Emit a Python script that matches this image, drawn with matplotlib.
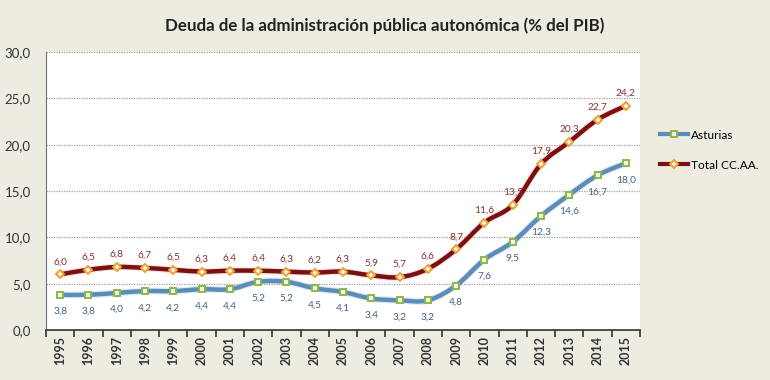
import matplotlib
matplotlib.use("Agg")
import matplotlib.pyplot as plt
import matplotlib.patheffects as pe
from matplotlib.path import Path
from matplotlib.patches import PathPatch
from matplotlib.lines import Line2D
import numpy as np

years = [str(y) for y in range(1995, 2016)]
asturias = [3.8, 3.8, 4.0, 4.2, 4.2, 4.4, 4.4, 5.2, 5.2, 4.5, 4.1, 3.4, 3.2, 3.2, 4.8, 7.6, 9.5, 12.3, 14.6, 16.7, 18.0]
total = [6.0, 6.5, 6.8, 6.7, 6.5, 6.3, 6.4, 6.4, 6.3, 6.2, 6.3, 5.9, 5.7, 6.6, 8.7, 11.6, 13.5, 17.9, 20.3, 22.7, 24.2]
yticks = [0, 5, 10, 15, 20, 25, 30]

plt.rcParams['font.family'] = ['Lato', 'DejaVu Sans']

BG = '#EEECE1'
fig = plt.figure(figsize=(7.7, 3.8), dpi=100, facecolor=BG)
ax = fig.add_axes([46/770, 1-330/380, 594/770, 278/380])
ax.set_facecolor('white')

x = np.arange(len(years))


def smooth_path(xs, ys, t=1/6):
    verts = [(xs[0], ys[0])]
    codes = [Path.MOVETO]
    n = len(xs)
    for i in range(n - 1):
        p0 = (xs[max(i-1, 0)], ys[max(i-1, 0)])
        p1 = (xs[i], ys[i])
        p2 = (xs[i+1], ys[i+1])
        p3 = (xs[min(i+2, n-1)], ys[min(i+2, n-1)])
        c1 = (p1[0] + (p2[0]-p0[0])*t, p1[1] + (p2[1]-p0[1])*t)
        c2 = (p2[0] - (p3[0]-p1[0])*t, p2[1] - (p3[1]-p1[1])*t)
        verts += [c1, c2, p2]
        codes += [Path.CURVE4]*3
    return Path(verts, codes)


series = [
    (asturias, '#5B8DB8', '#A9C6E0', 's', '#8DB848', '#44607E', -1, 'Asturias'),
    (total, '#7B1010', '#E8B0B0', 'D', '#F0A030', '#8B3030', 1, 'Total CC.AA.'),
]

for vals, lc, glow, mk, mc, tc, side, name in series:
    p = smooth_path(x, vals)
    patch = PathPatch(p, facecolor='none', edgecolor=lc, lw=3.2, zorder=3,
                      path_effects=[pe.Stroke(linewidth=5, foreground=glow, alpha=0.35), pe.Normal()])
    ax.add_patch(patch)
    ax.plot(x, vals, linestyle='none', marker=mk, markersize=5 if mk == 's' else 4.5,
            markerfacecolor='#F4F4E8', markeredgecolor=mc, markeredgewidth=1.4, zorder=4)
    for xi, v in zip(x, vals):
        off = 9 if side > 0 else -12
        ax.annotate(f"{v:.1f}".replace('.', ','), (xi, v), xytext=(0, off),
                    textcoords='offset points', ha='center', va='center',
                    fontsize=7.3, color=tc, zorder=5)

ax.set_xlim(-0.5, len(years) - 0.5)
ax.set_ylim(0, 30)
ax.set_yticks(yticks)
ax.set_yticklabels([f"{v:.1f}".replace('.', ',') for v in yticks], fontsize=9.5, color='#333333')
ax.tick_params(axis='y', length=0, pad=11)
ax.set_xticks(x)
ax.set_xticklabels(years, rotation=90, fontsize=9, fontweight='bold', color='#333333')
ax.set_xticks(np.arange(-0.5, len(years)), minor=True)
ax.tick_params(axis='x', which='major', length=0, pad=4)
ax.tick_params(axis='x', which='minor', length=5, width=1.2, color='#333333', direction='out')
for yv in yticks[1:]:
    ax.axhline(yv, color='#A0A0A0', lw=0.9, ls=(0, (1, 1)), zorder=1)
for s in ['top', 'right']:
    ax.spines[s].set_visible(False)
ax.spines['left'].set_color('#707070')
ax.spines['bottom'].set_color('#333333')
ax.spines['bottom'].set_linewidth(1.2)

fig.text(0.5, 1-26/380, 'Deuda de la administración pública autonómica (% del PIB)',
         ha='center', va='center', fontsize=12.2, fontweight='bold', color='#222222')

handles = [
    Line2D([], [], color='#5B8DB8', lw=3, marker='s', markersize=5,
           markerfacecolor='#F4F4E8', markeredgecolor='#8DB848', markeredgewidth=1.4),
    Line2D([], [], color='#7B1010', lw=3, marker='D', markersize=4.5,
           markerfacecolor='#F4F4E8', markeredgecolor='#F0A030', markeredgewidth=1.4),
]
fig.legend(handles, ['Asturias', 'Total CC.AA.'], loc='upper left',
           bbox_to_anchor=(650/770, 1-120/380), frameon=False, fontsize=8.6,
           handlelength=2.4, handletextpad=0.2, labelspacing=1.6, borderpad=0.3)

fig.savefig('out.png', dpi=100, facecolor=BG)
